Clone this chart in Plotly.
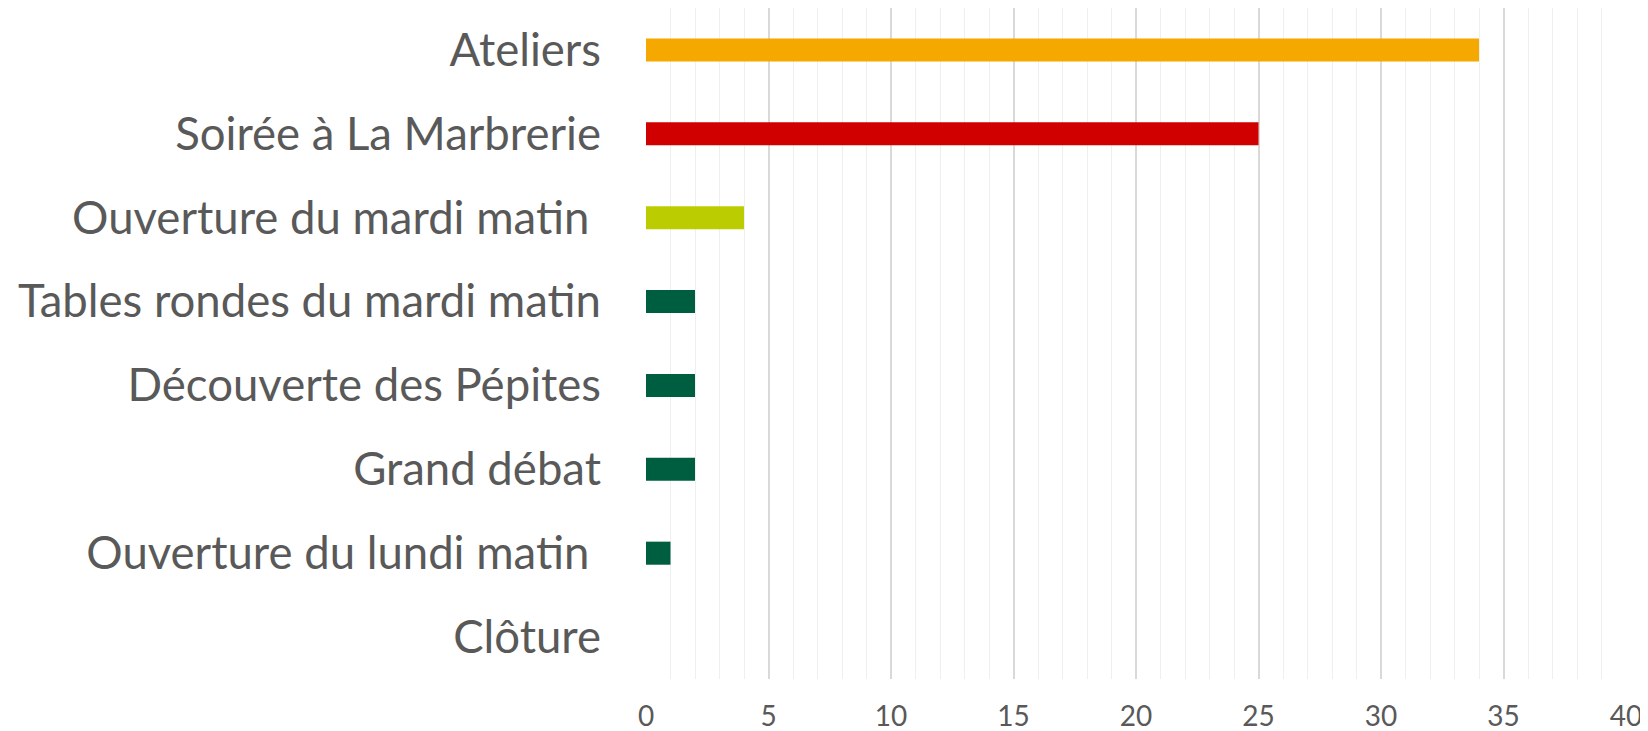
import plotly.graph_objects as go

categories = [
    "Ateliers",
    "Soirée à La Marbrerie",
    "Ouverture du mardi matin ",
    "Tables rondes du mardi matin",
    "Découverte des Pépites",
    "Grand débat",
    "Ouverture du lundi matin ",
    "Clôture",
]
values = [34, 25, 4, 2, 2, 2, 1, 0]
bar_colors = ["#F5A800", "#D10000", "#BBCC00", "#005E40", "#005E40", "#005E40", "#005E40", "#005E40"]
x_ticks = [0, 5, 10, 15, 20, 25, 30, 35, 40]

fig = go.Figure(
    go.Bar(
        x=values,
        y=categories,
        orientation="h",
        marker=dict(color=bar_colors, line=dict(width=0)),
        width=0.275,
    )
)

fig.update_layout(
    width=1648,
    height=731,
    margin=dict(l=638, r=30, t=0, b=60, autoexpand=False),
    paper_bgcolor="white",
    plot_bgcolor="white",
    showlegend=False,
    font=dict(family="Lato", color="#595959"),
)

fig.update_yaxes(
    categoryorder="array",
    categoryarray=categories[::-1],
    tickfont=dict(size=45.5, color="#595959"),
    ticklabelstandoff=44,
    showgrid=False,
    zeroline=False,
    showline=False,
    ticks="",
    automargin=False,
)

fig.update_xaxes(
    range=[0, 40],
    tickvals=x_ticks,
    ticktext=[str(t) for t in x_ticks],
    tickfont=dict(size=28, color="#595959"),
    ticklabelstandoff=18,
    showgrid=True,
    gridcolor="#D9D9D9",
    gridwidth=1.5,
    minor=dict(dtick=1, showgrid=True, gridcolor="#EFEFEF", gridwidth=1),
    zeroline=False,
    showline=False,
    ticks="",
    automargin=False,
)

fig.write_html("out.html")
